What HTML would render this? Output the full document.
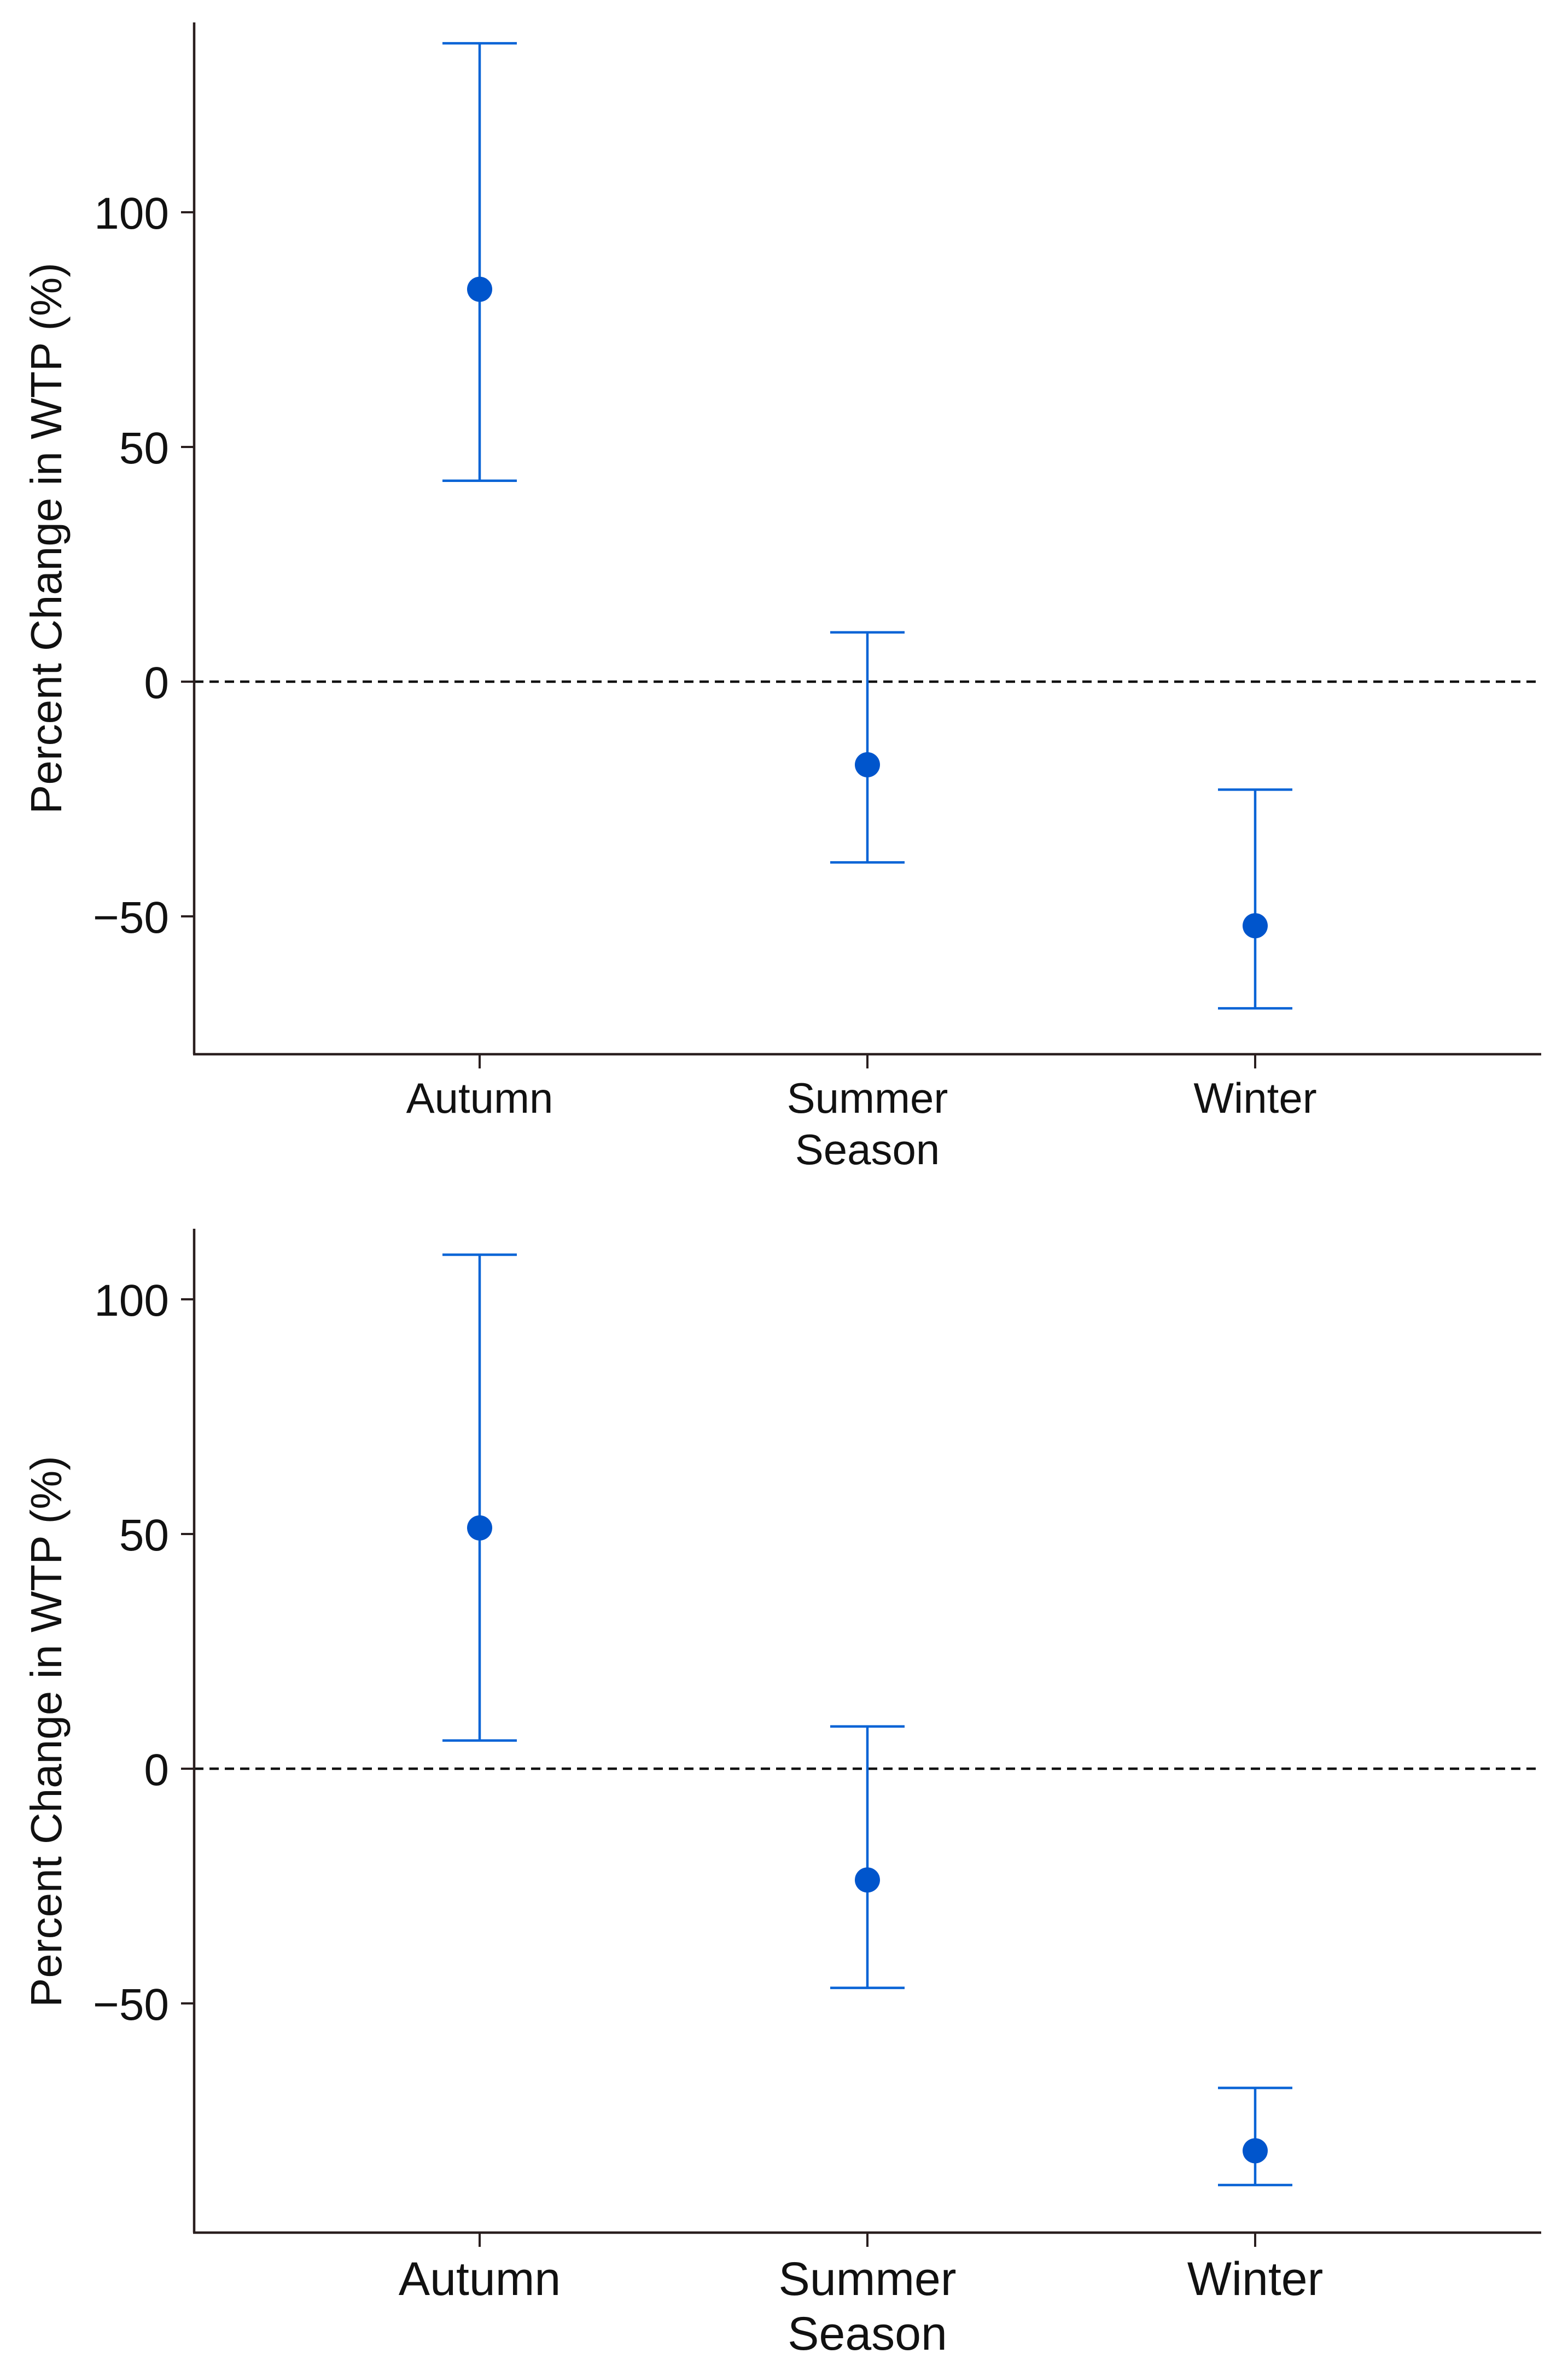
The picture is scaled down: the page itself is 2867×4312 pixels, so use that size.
<!DOCTYPE html>
<html><head><meta charset="utf-8"><style>
html,body{margin:0;padding:0;background:#fff}
svg{display:block}
text{font-family:"Liberation Sans",sans-serif;fill:#111}
</style></head><body>
<svg id="chart" width="2867" height="4312" viewBox="0 0 2867 4312" xmlns="http://www.w3.org/2000/svg"></svg>
<script>
const categories = ["Autumn","Summer","Winter"];
const topEstimate = [83.6, -17.7, -52];
const topLower = [42.8, -38.5, -69.6];
const topUpper = [136, 10.5, -23];
const topTicks = [100, 50, 0, -50];
const bottomEstimate = [51.3, -23.7, -81.4];
const bottomLower = [6, -46.7, -88.7];
const bottomUpper = [109.5, 9, -68];
const bottomTicks = [100, 50, 0, -50];

const NS = "http://www.w3.org/2000/svg";
const svg = document.getElementById('chart');
function mk(tag, attrs, parent){const e=document.createElementNS(NS,tag);for(const k in attrs)e.setAttribute(k,attrs[k]);(parent||svg).appendChild(e);return e;}

function panel(cfg){
  const g = mk('g',{});
  
  
  const L=355,R=2818,T=cfg.top,B=cfg.bottom;
  const y=v=>cfg.zeroY - v*cfg.pxPer;
  const xs=[877,1586,2295];
  const x=i=>xs[0]+(xs[2]-xs[0])*i/(categories.length-1);
  const z=mk('line',{x1:L,x2:R,y1:y(0),y2:y(0),stroke:'#111','stroke-width':4.5,'stroke-dasharray':'17 11'},g);
  
  
  const ya=mk('line',{x1:L,x2:L,y1:T,y2:B,stroke:'#2a1f1f','stroke-width':4.5},g);
  
  
  const xa=mk('line',{x1:L-2,x2:R,y1:B,y2:B,stroke:'#2a1f1f','stroke-width':4.5},g);
  
  
  cfg.ticks.forEach(t=>{
    mk('line',{x1:L-24,x2:L,y1:y(t),y2:y(t),stroke:'#2a1f1f','stroke-width':4},g);
    const tl=mk('text',{x:309,y:y(t)+30,'text-anchor':'end','font-size':82},g);
    tl.textContent = t<0 ? '\u2212'+Math.abs(t) : String(t);
    
    
  });
  const yt=mk('text',{x:0,y:0,'text-anchor':'middle','font-size':80,transform:`translate(${cfg.titleX},${cfg.titleY}) rotate(-90)`},g);
  yt.textContent='Percent Change in WTP (%)';
  
  
  categories.forEach((c,i)=>{
    const cx=x(i);
    mk('line',{x1:cx,x2:cx,y1:B,y2:B+26,stroke:'#2a1f1f','stroke-width':4},g);
    const cl=mk('text',{x:cx,y:cfg.labelY,'text-anchor':'middle','font-size':cfg.labelSize},g);
    cl.textContent=c;
    
    
    const eb=mk('g',{stroke:'#0a64d6','stroke-width':4.5,fill:'none'},g);
    
    
    mk('line',{x1:cx,x2:cx,y1:y(cfg.upper[i]),y2:y(cfg.lower[i])},eb);
    mk('line',{x1:cx-68,x2:cx+68,y1:y(cfg.upper[i]),y2:y(cfg.upper[i])},eb);
    mk('line',{x1:cx-68,x2:cx+68,y1:y(cfg.lower[i]),y2:y(cfg.lower[i])},eb);
    const d=mk('circle',{cx:cx,cy:y(cfg.est[i]),r:23,fill:'#0055cc'},g);
    
    
  });
  const xt=mk('text',{x:x(1),y:cfg.labelY+cfg.seasonGap,'text-anchor':'middle','font-size':cfg.labelSize},g);
  xt.textContent='Season';
  
  
}

panel({name:'top-panel',top:41,bottom:1927,zeroY:1246,pxPer:8.58,ticks:topTicks,
  est:topEstimate,lower:topLower,upper:topUpper,labelY:2034,labelSize:78,seasonGap:94,titleX:112,titleY:984});
panel({name:'bottom-panel',top:2246,bottom:4081,zeroY:3233,pxPer:8.58,ticks:bottomTicks,
  est:bottomEstimate,lower:bottomLower,upper:bottomUpper,labelY:4195,labelSize:86,seasonGap:100,titleX:112,titleY:3165});
</script>
</body></html>
